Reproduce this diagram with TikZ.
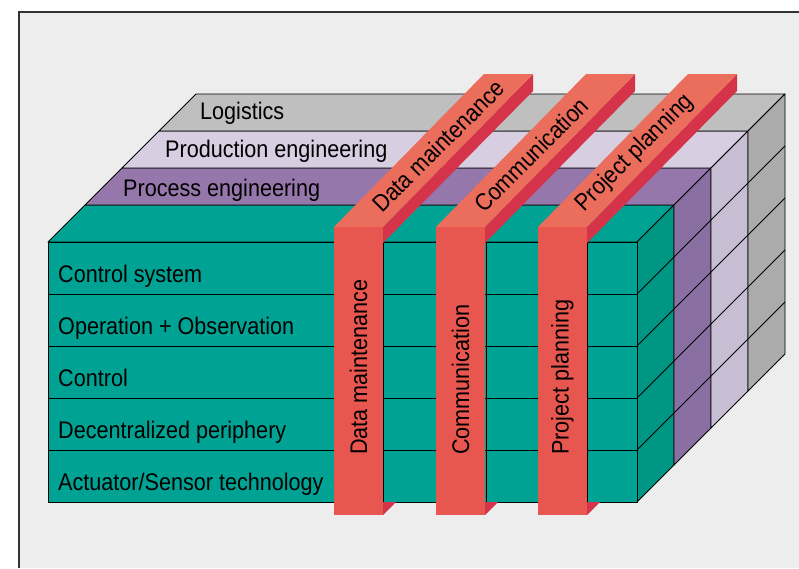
\documentclass[tikz,border=0pt]{standalone}
\usepackage{fontspec}
\setmainfont[FakeStretch=0.9]{Liberation Sans}
\definecolor{paper}{HTML}{EDEDED}
\definecolor{frameline}{HTML}{333333}
\definecolor{tealfront}{HTML}{00A393}
\definecolor{tealside}{HTML}{009684}
\definecolor{procfront}{HTML}{9677AB}
\definecolor{procside}{HTML}{8A6FA3}
\definecolor{prodtop}{HTML}{D7CEE2}
\definecolor{prodside}{HTML}{C8BED3}
\definecolor{logtop}{HTML}{BFBFBF}
\definecolor{logside}{HTML}{ABABAB}
\definecolor{barfront}{HTML}{E8574F}
\definecolor{bartop}{HTML}{EB6D5C}
\definecolor{barside}{HTML}{D5334A}
\begin{document}
\begin{tikzpicture}[
		x=1pt, y=-1pt,
		face/.style={draw=black, line width=0.9pt, line join=round},
		every node/.style={font=\fontsize{24}{28}\selectfont, inner sep=0pt, text=black},
		rowlabel/.style={anchor=base west},
		barlabel/.style={anchor=west}
	]
	\useasboundingbox (0,0) rectangle (799,568);
	\fill[white] (0,0) rectangle (799,568);
	\fill[paper] (19,12) rectangle (799,568);
	\draw[frameline, line width=1.8pt] (19,568) -- (19,12) -- (799,12);

	% top of the cube, one strip per layer
	\foreach \k/\topcol in {0/tealfront, 1/procfront, 2/prodtop, 3/logtop}
		\path[face, fill=\topcol] (48+37*\k,242-37*\k) -- (637+37*\k,242-37*\k)
			-- (674+37*\k,205-37*\k) -- (85+37*\k,205-37*\k) -- cycle;
	% right side of the cube
	\foreach \k/\sidecol in {0/tealside, 1/procside, 2/prodside, 3/logside}
		\path[face, fill=\sidecol] (637+37*\k,242-37*\k) -- (674+37*\k,205-37*\k)
			-- (674+37*\k,465-37*\k) -- (637+37*\k,502-37*\k) -- cycle;
	\foreach \y in {294,346,398,450}
		\draw[face] (637,\y) -- (785,\y-148);

	% front face with its grid
	\path[face, fill=tealfront] (48,242) rectangle (637,502);
	\foreach \y in {294,346,398,450}
		\draw[face] (48,\y) -- (637,\y);
	\foreach \x in {334,383,436,486,538,587}
		\draw[face] (\x,242) -- (\x,502);

	\node[rowlabel] (ctrlsys) at (58,282) {Control system};
	\node[rowlabel] (opobs) at (58,334) {Operation + Observation};
	\node[rowlabel] (ctrl) at (58,386) {Control};
	\node[rowlabel] (decper) at (58,438) {Decentralized periphery};
	\node[rowlabel] (actsens) at (58,490) {Actuator/Sensor technology};

	\node[rowlabel] (proceng) at (123,196) {Process engineering};
	\node[rowlabel] (prodeng) at (165,157) {Production engineering};
	\node[rowlabel] (logist) at (200,119) {Logistics};

	% bars wrapped over the front and the top
	\foreach \b/\name/\txt in {334/datamaint/Data maintenance, 436/comm/Communication, 538/projplan/Project planning} {
		\fill[barside] (\b+49,227) -- (\b+199,74) -- (\b+199,91) -- (\b+49,243) -- cycle;
		\fill[bartop] (\b,227) -- (\b+49,227) -- (\b+199,74) -- (\b+150,74) -- cycle;
		\fill[barside] (\b+49,502) -- (\b+49,515) -- (\b+62,502) -- cycle;
		\fill[barfront] (\b,227) rectangle (\b+49,515);
		\node[barlabel, rotate=90] (\name-front) at (\b+24.5,455) {\txt};
		\node[barlabel, rotate=45] (\name-top) at (\b+42,208) {\txt};
	}
\end{tikzpicture}
\end{document}
